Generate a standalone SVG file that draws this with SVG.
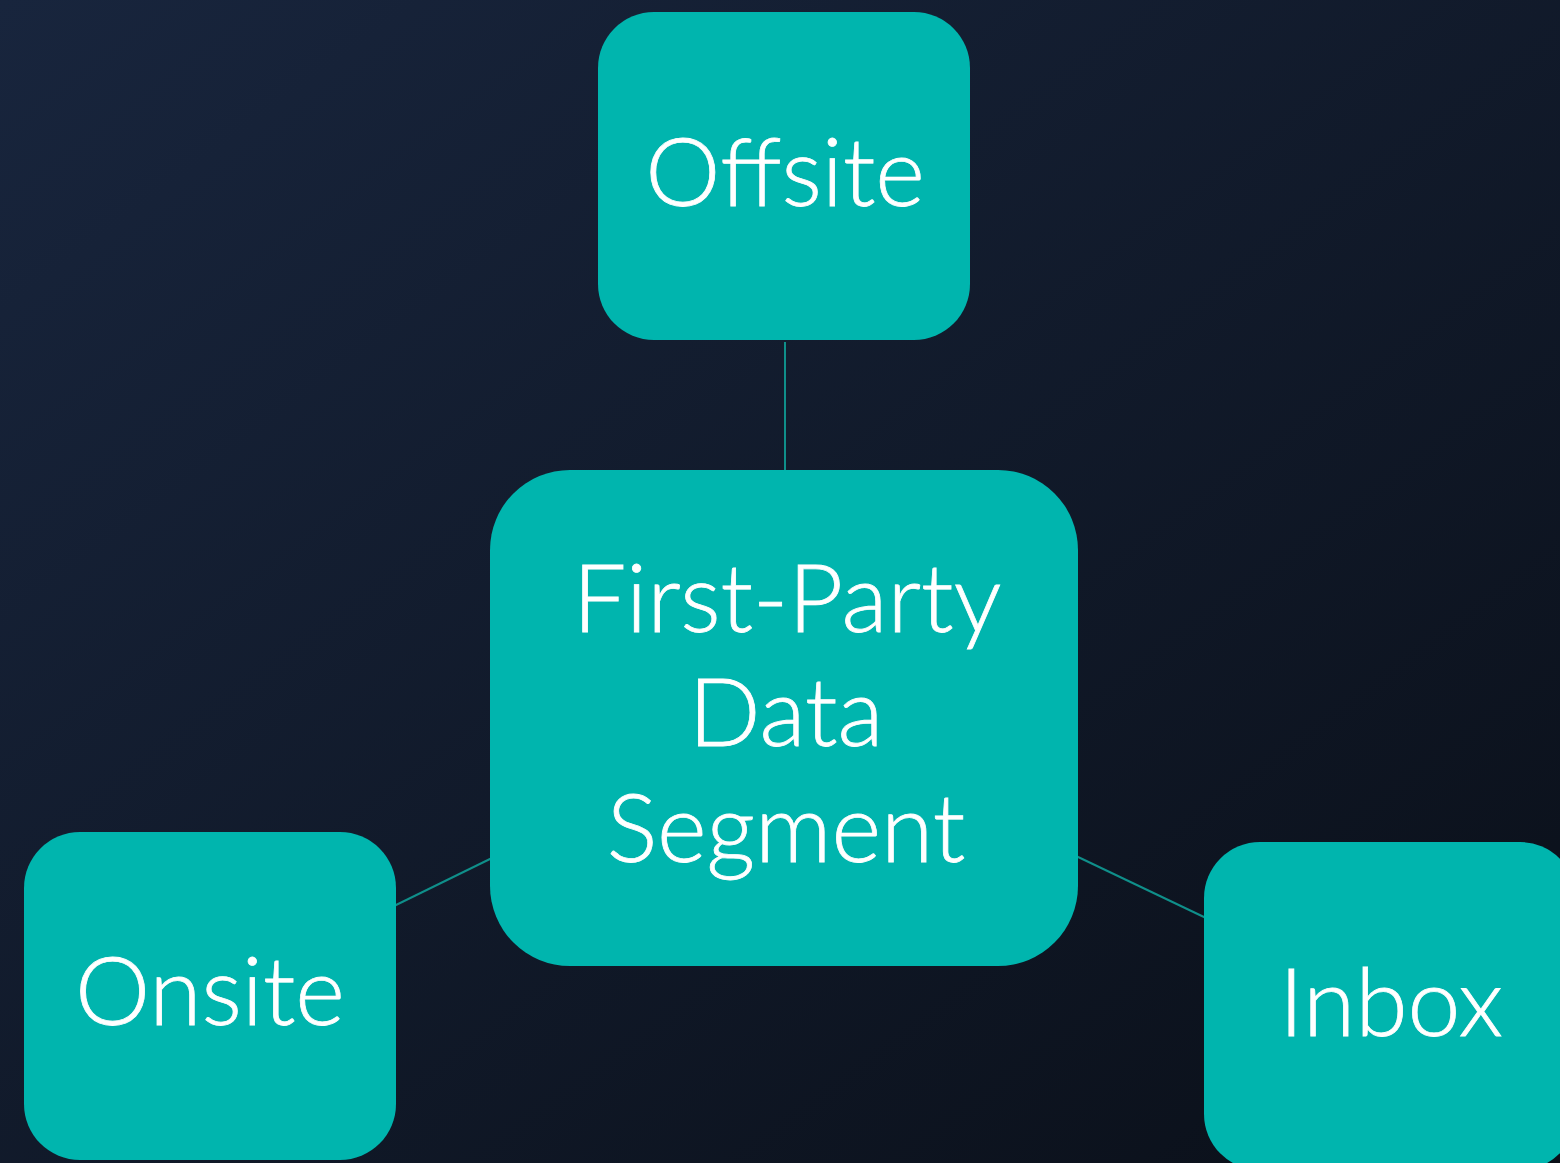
<svg xmlns="http://www.w3.org/2000/svg" width="1560" height="1163" viewBox="0 0 1560 1163">
<defs>
<linearGradient id="bg" x1="0" y1="0" x2="1" y2="1">
<stop offset="0" stop-color="#18253d"/>
<stop offset="1" stop-color="#0a0f18"/>
</linearGradient>
<style>
.box{fill:#00b5ae}
.lbl{fill:#ffffff;font-family:Lato,"Noto Sans","Liberation Sans",sans-serif;font-weight:300;font-size:95px;text-anchor:middle;stroke:#ffffff;stroke-width:0.8}
.conn{stroke:#0f8f8a;stroke-width:2;fill:none}
</style>
</defs>
<rect width="1560" height="1163" fill="url(#bg)"/>
<g id="connectors">
<line class="conn" x1="785" y1="342" x2="785" y2="472"/>
<line class="conn" x1="394" y1="906" x2="492" y2="858"/>
<line class="conn" x1="1076" y1="856" x2="1206" y2="918"/>
</g>
<g id="offsite">
<rect class="box" x="598" y="12" width="372" height="328" rx="56"/>
<text class="lbl" x="785" y="206">Offsite</text>
</g>
<g id="center">
<rect class="box" x="490" y="470" width="588" height="496" rx="80"/>
<text class="lbl" x="787" y="632">First-Party</text>
<text class="lbl" x="786" y="746">Data</text>
<text class="lbl" x="786" y="862">Segment</text>
</g>
<g id="onsite">
<rect class="box" x="24" y="832" width="372" height="328" rx="56"/>
<text class="lbl" x="210" y="1025">Onsite</text>
</g>
<g id="inbox">
<rect class="box" x="1204" y="842" width="372" height="328" rx="56"/>
<text class="lbl" x="1391" y="1036">Inbox</text>
</g>
</svg>
